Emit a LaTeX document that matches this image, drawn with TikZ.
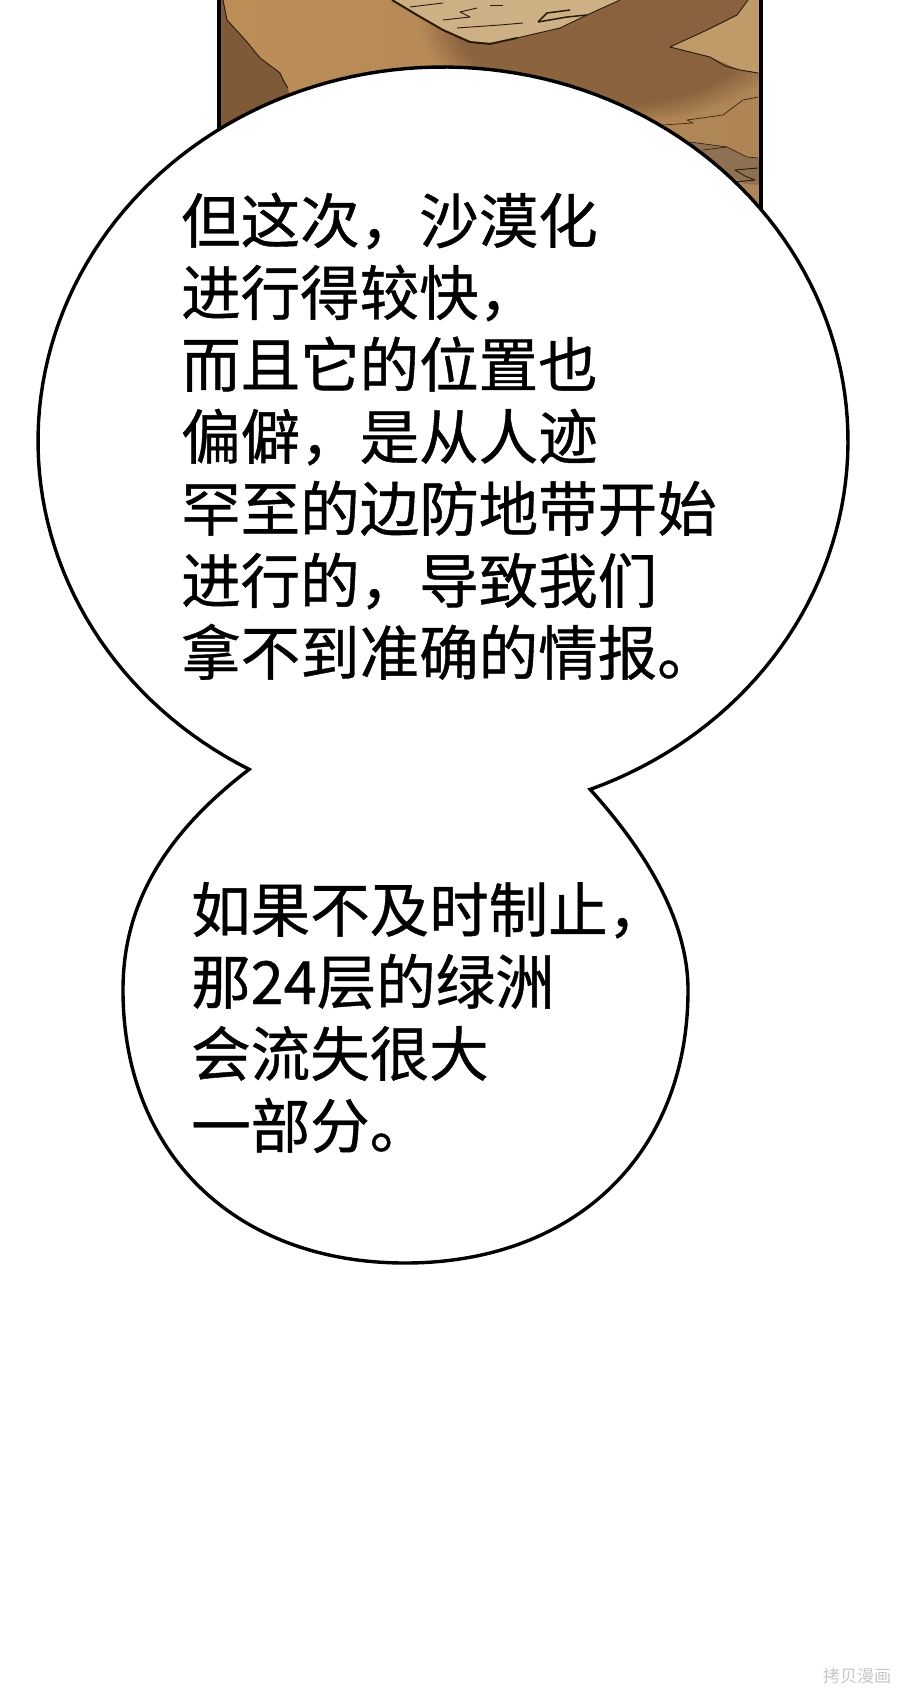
\documentclass[tikz,border=0pt]{standalone}
\usepackage{fontspec}
\usetikzlibrary{fadings}
\newfontfamily\cjk[FakeBold=0.7]{Noto Sans CJK SC}
\newfontfamily\cjkw{Noto Sans CJK SC}
\definecolor{sandA}{HTML}{BC8D57}
\definecolor{sandB}{HTML}{AE8556}
\definecolor{sandDark}{HTML}{875F3C}
\definecolor{wedge}{HTML}{7E5A39}
\definecolor{sandLight}{HTML}{C09A69}
\definecolor{stone}{HTML}{CDB083}
\definecolor{blob}{HTML}{8E7152}
\definecolor{ink}{HTML}{2A1A0C}
\tikzset{
  line/.style={anchor=base west,inner sep=0pt,font=\cjk\fontsize{59.5}{72}\selectfont,text=black},
  crack/.style={draw=ink,line width=0.9pt,line join=round},
  bubble/.style={draw=black,fill=white,line width=3.4pt,line join=miter}
}
\begin{document}
\begin{tikzpicture}[x=1pt,y=-1pt]
\useasboundingbox (0,0) rectangle (900,1693);
\fill[white] (0,0) rectangle (900,1693);
% picture panel
\begin{scope}
\clip (219,0) rectangle (760,215);
\fill[left color=sandA,right color=sandB] (219,0) rectangle (760,215);
\fill[sandDark,path fading=circle with fuzzy edge 20 percent,opacity=0.9] (610,20) ellipse [x radius=190,y radius=105];
\fill[sandLight] (670,47) -- (707,30) -- (737,15) -- (748,0) -- (760,0) -- (760,73) -- (740,70) -- (710,57) -- cycle;
\fill[wedge] (223,0) -- (227,20) -- (247,42) -- (260,58) -- (280,73) -- (288,88) -- (290,100) -- (219,135) -- (219,0) -- cycle;
\fill[blob] (690,142) -- (727,147) -- (747,157) -- (760,158) -- (760,185) -- (745,184) -- (720,170) -- cycle;
\fill[stone] (392,0) -- (417,15) -- (443,30) -- (470,42) -- (500,43) -- (517,38) -- (560,28) -- (587,15) -- (620,0) -- cycle;
\end{scope}
\draw[ink,line width=2pt,line join=round] (392,0) -- (417,15) -- (443,30) -- (470,42) -- (490,44) -- (517,38);
\draw[crack] (517,38) -- (560,28) -- (587,15) -- (620,0);
\draw[crack] (223,0) -- (227,20) -- (247,42) -- (260,58) -- (280,73) -- (284,82) -- (288,88);
\draw[crack] (443,20) -- (470,17) -- (460,12) -- (477,8);
\draw[crack] (410,7) -- (443,3);
\draw[crack] (457,28) -- (500,25) -- (523,23);
\draw[crack] (490,5) -- (503,5);
\draw[ink,line width=1.5pt,line join=round] (538,22) -- (547,13) -- (570,10);
\draw[ink,line width=1.5pt,line join=round] (538,22) -- (567,17) -- (587,15);
\draw[crack] (748,0) -- (737,15) -- (707,30) -- (670,47) -- (690,52) -- (710,57) -- (725,66) -- (740,70) -- (758,73);
\draw[crack,line width=0.6pt] (758,97) -- (743,100) -- (723,115) -- (687,120) -- (693,123) -- (663,125);
\draw[crack,line width=0.6pt] (690,142) -- (727,147) -- (747,157) -- (758,158);
\draw[crack,line width=0.6pt] (703,150) -- (727,147);
\draw[crack] (758,168) -- (735,170) -- (745,176) -- (755,180) -- (735,182);
\draw[black,line width=4.2pt] (219,0) -- (219,130);
\draw[black,line width=4.2pt] (761,0) -- (761,215);
% bubble
\coordinate (nl) at ({443+405*cos(118.6)},{441+374*sin(118.6)});
\path[bubble] plot[domain=118.6:428.7,samples=160,variable=\t] ({443+405*cos(\t)},{441+374*sin(\t)})
  .. controls (645,850) and (688,920) .. (688,990)
  .. controls (688,1154) and (575,1263) .. (405,1263)
  .. controls (236,1263) and (123,1154) .. (123,990)
  .. controls (123,920) and (150,845) .. (nl) -- cycle;
% text
\node[line] (a1) at (181,243) {但这次，沙漠化};
\node[line] (a2) at (181,315) {进行得较快，};
\node[line] (a3) at (181,387) {而且它的位置也};
\node[line] (a4) at (181,459) {偏僻，是从人迹};
\node[line] (a5) at (181,531) {罕至的边防地带开始};
\node[line] (a6) at (181,603) {进行的，导致我们};
\node[line] (a7) at (181,675) {拿不到准确的情报。};
\node[line] (b1) at (191,932) {如果不及时制止，};
\node[line] (b2) at (191,1004) {那24层的绿洲};
\node[line] (b3) at (191,1076) {会流失很大};
\node[line] (b4) at (191,1148) {一部分。};
\node[anchor=base west,inner sep=0pt,font=\cjkw\fontsize{17}{20}\selectfont,text=black!22] (wm) at (823,1682) {拷贝漫画};
\end{tikzpicture}
\end{document}
